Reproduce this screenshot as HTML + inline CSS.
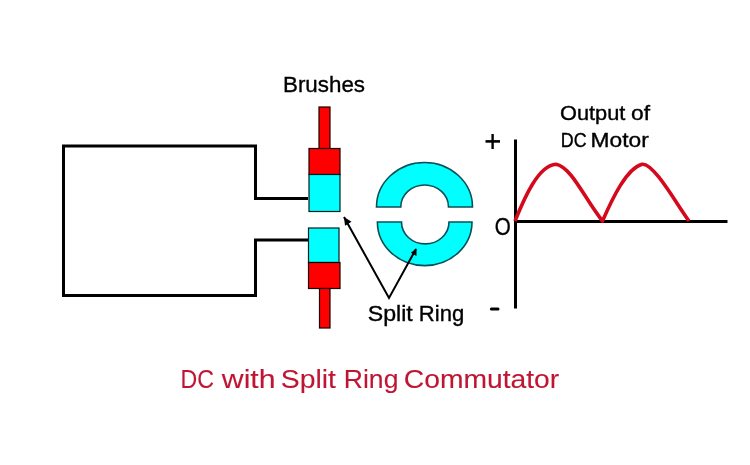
<!DOCTYPE html>
<html>
<head>
<meta charset="utf-8">
<style>
html,body{margin:0;padding:0;background:#fff;width:750px;height:465px;overflow:hidden;}
svg{display:block;}
text{font-family:"Liberation Sans", sans-serif;}
svg{will-change:transform;}
</style>
</head>
<body>
<svg width="750" height="465" viewBox="0 0 750 465">
<rect width="750" height="465" fill="#fff"/>
<!-- wire loop -->
<path d="M308 198.5 H255.5 V146 H63.5 V295.5 H255.5 V240 H308" fill="none" stroke="#000" stroke-width="3" stroke-linejoin="miter"/>

<!-- upper brush -->
<rect x="319" y="107" width="11" height="42" fill="#ff0000" stroke="#1a0000" stroke-width="1.2"/>
<rect x="309" y="148.5" width="31" height="26" fill="#ff0000" stroke="#1a0000" stroke-width="1.2"/>
<rect x="309" y="174.5" width="31" height="37" fill="#00ffff" stroke="#002020" stroke-width="1.2"/>

<!-- lower brush -->
<rect x="308.5" y="228" width="30.5" height="34.5" fill="#00ffff" stroke="#002020" stroke-width="1.2"/>
<rect x="308.5" y="262.5" width="31.5" height="26" fill="#ff0000" stroke="#1a0000" stroke-width="1.2"/>
<rect x="319.5" y="288.5" width="10.5" height="39.5" fill="#ff0000" stroke="#1a0000" stroke-width="1.2"/>

<!-- split ring -->
<path d="M376.5 207 A48 44.5 0 0 1 472.5 207 H448.5 A23.85 22 0 0 0 400.8 207 Z" fill="#00ffff" stroke="#0d4f56" stroke-width="1.6"/>
<path d="M377.4 222 A47.3 43.6 0 0 0 472 222 H449 A23.75 21.9 0 0 1 401.5 222 Z" fill="#00ffff" stroke="#0d4f56" stroke-width="1.6"/>

<!-- arrows -->

<path d="M344 217 L389 298 L416 249" fill="none" stroke="#000" stroke-width="2"/>
<path d="M344 217 L351.5 221.8 L345 225.8 Z" fill="#000"/>
<path d="M416.5 248.5 L416.5 256 L410.8 252.8 Z" fill="#000"/>

<!-- graph -->
<line x1="515.5" y1="139.5" x2="515.5" y2="308.5" stroke="#000" stroke-width="3"/>
<line x1="514" y1="221.5" x2="727.5" y2="221.5" stroke="#000" stroke-width="3"/>
<path d="M515 221 C 524.8 196.9, 538.5 165.4, 556 164.3 C 571.6 167.1, 585.1 199.5, 602.5 221 C 612.9 197.4, 626.6 168.6, 642 164.3 C 653.8 162.2, 678.0 206.8, 689 221" fill="none" stroke="#d40a1c" stroke-width="3.6" stroke-linejoin="round"/>
<!-- + and - -->
<line x1="485.5" y1="141.4" x2="500" y2="141.4" stroke="#000" stroke-width="2.6"/>
<line x1="492.6" y1="134" x2="492.6" y2="149" stroke="#000" stroke-width="2.4"/>
<line x1="491.4" y1="309" x2="498" y2="309" stroke="#000" stroke-width="3" stroke-linecap="round"/>

<!-- texts -->
<text x="283.00" y="91.7" font-size="22.4" fill="#000" stroke="#000" stroke-width="0.35" textLength="82.00" lengthAdjust="spacingAndGlyphs">Brushes</text>
<text x="560.00" y="120" font-size="19.8" fill="#000" stroke="#000" stroke-width="0.35" textLength="65.40" lengthAdjust="spacingAndGlyphs">Output</text>
<text x="631.00" y="120" font-size="19.8" fill="#000" stroke="#000" stroke-width="0.35" textLength="19.00" lengthAdjust="spacingAndGlyphs">of</text>
<text x="560.80" y="147" font-size="19.8" fill="#000" stroke="#000" stroke-width="0.35" textLength="25.80" lengthAdjust="spacingAndGlyphs">DC</text>
<text x="590.60" y="147" font-size="19.8" fill="#000" stroke="#000" stroke-width="0.35" textLength="58.20" lengthAdjust="spacingAndGlyphs">Motor</text>
<text x="494.70" y="234.8" font-size="24.5" fill="#000" stroke="#000" stroke-width="0.35" textLength="16.00" lengthAdjust="spacingAndGlyphs">O</text>
<text x="367.80" y="321.2" font-size="22" fill="#000" stroke="#000" stroke-width="0.35" textLength="45.00" lengthAdjust="spacingAndGlyphs">Split</text>
<text x="418.80" y="321.2" font-size="22" fill="#000" stroke="#000" stroke-width="0.35" textLength="45.40" lengthAdjust="spacingAndGlyphs">Ring</text>
<text x="180.60" y="388.3" font-size="26.6" fill="#c01532" stroke="#c01532" stroke-width="0.1" textLength="33.40" lengthAdjust="spacingAndGlyphs">DC</text>
<text x="221.80" y="388.3" font-size="26.6" fill="#c01532" stroke="#c01532" stroke-width="0.1" textLength="53.80" lengthAdjust="spacingAndGlyphs">with</text>
<text x="280.80" y="388.3" font-size="26.6" fill="#c01532" stroke="#c01532" stroke-width="0.1" textLength="55.20" lengthAdjust="spacingAndGlyphs">Split</text>
<text x="343.80" y="388.3" font-size="26.6" fill="#c01532" stroke="#c01532" stroke-width="0.1" textLength="54.60" lengthAdjust="spacingAndGlyphs">Ring</text>
<text x="403.80" y="388.3" font-size="26.6" fill="#c01532" stroke="#c01532" stroke-width="0.1" textLength="155.40" lengthAdjust="spacingAndGlyphs">Commutator</text>
</svg>
</body>
</html>
